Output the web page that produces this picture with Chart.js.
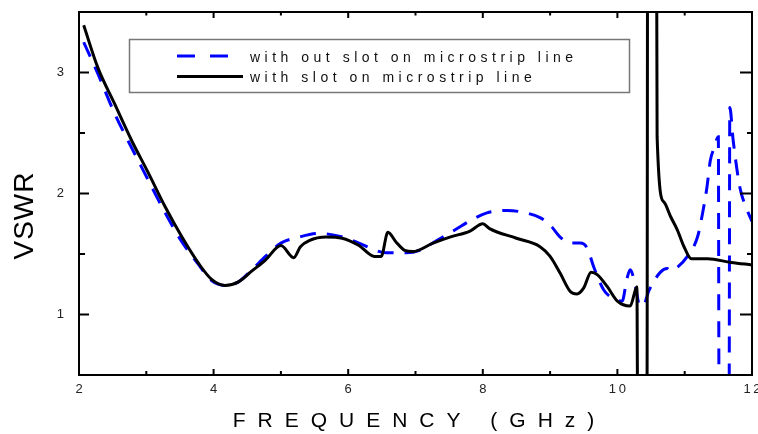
<!DOCTYPE html>
<html>
<head>
<meta charset="utf-8">
<title>VSWR vs frequency</title>
<script src="https://cdn.jsdelivr.net/npm/chart.js@4.4.1/dist/chart.umd.min.js"></script>
<style>
  html, body { margin: 0; padding: 0; background: #fff; }
  #wrap { width: 758px; height: 434px; }
</style>
</head>
<body>
<div id="wrap"><canvas id="vswrChart" width="758" height="434"></canvas></div>
<script>
// Curve (GHz, VSWR). Values below 0.5 / above 3.5 are off scale.
const freqSlot = [2.07, 2.28, 2.53, 2.78, 3.03, 3.28, 3.53, 3.78, 3.97, 4.17, 4.37, 4.57, 4.77, 5.0,
  5.19, 5.29, 5.42, 5.67, 5.91, 6.16, 6.39, 6.49, 6.59, 6.71, 6.84, 6.96, 7.26, 7.51, 7.81, 8.0,
  8.10, 8.50, 8.85, 9.0, 9.15, 9.30, 9.40, 9.50, 9.61, 9.70, 9.85, 10.0, 10.19, 10.29, 10.30,
  10.44, 10.45, 10.58, 10.59, 10.69, 10.79, 10.89, 10.99, 11.10, 11.34, 11.69, 12.0];
const vswrSlot = [3.39, 3.04, 2.74, 2.44, 2.17, 1.89, 1.64, 1.42, 1.29, 1.24, 1.27, 1.36, 1.45, 1.57,
  1.47, 1.56, 1.61, 1.64, 1.63, 1.57, 1.48, 1.48, 1.68, 1.60, 1.53, 1.52, 1.59, 1.64, 1.69, 1.75,
  1.71, 1.63, 1.56, 1.48, 1.34, 1.19, 1.17, 1.22, 1.35, 1.33, 1.23, 1.11, 1.07, 1.23, 0.3,
  0.3, 4.5, 4.5, 2.47, 1.93, 1.81, 1.70, 1.56, 1.46, 1.46, 1.43, 1.41];

const freqNoSlot = [2.07, 2.28, 2.53, 2.78, 3.03, 3.28, 3.53, 3.78, 3.97, 4.17, 4.37, 4.57, 4.77, 5.0,
  5.27, 5.57, 5.92, 6.16, 6.41, 6.56, 6.86, 7.06, 7.31, 7.56, 7.86, 8.06, 8.36, 8.55, 8.85, 9.0,
  9.15, 9.30, 9.45, 9.55, 9.65, 9.80, 9.95, 10.07, 10.14, 10.19, 10.27, 10.32, 10.38, 10.47,
  10.64, 10.74, 10.79, 10.89, 11.04, 11.19, 11.26, 11.33, 11.38, 11.44, 11.50, 11.51, 11.66,
  11.67, 11.72, 11.82, 11.90, 12.0];
const vswrNoSlot = [3.25, 2.99, 2.66, 2.38, 2.11, 1.84, 1.60, 1.41, 1.28, 1.24, 1.27, 1.37, 1.48, 1.59,
  1.64, 1.67, 1.64, 1.59, 1.53, 1.51, 1.51, 1.53, 1.61, 1.69, 1.79, 1.84, 1.86, 1.85, 1.80, 1.74,
  1.64, 1.59, 1.59, 1.55, 1.39, 1.20, 1.13, 1.11, 1.29, 1.37, 1.23, 1.09, 1.07, 1.20,
  1.35, 1.38, 1.36, 1.39, 1.48, 1.64, 1.82, 2.05, 2.27, 2.38, 2.47, 0.3, 0.3,
  2.71, 2.44, 2.05, 1.90, 1.77];

const xTicks = [2, 4, 6, 8, 10, 12];
const yTicks = [1, 2, 3];
const seriesNames = ['with out slot on microstrip line', 'with slot on microstrip line'];

const FONT = '"Liberation Sans", Arial, sans-serif';
const BLUE = '#0000ff';

function toPoints(xs, ys) {
  return xs.map((f, i) => ({ x: f, y: ys[i] }));
}

// frame round the plot with inward ticks on all four sides
const framePlugin = {
  id: 'frame',
  afterDatasetsDraw(chart) {
    const { ctx, chartArea: a, scales: { x, y } } = chart;
    ctx.save();
    ctx.strokeStyle = '#000';
    ctx.lineWidth = 2;
    ctx.strokeRect(a.left, a.top, a.right - a.left, a.bottom - a.top);
    ctx.beginPath();
    for (let v = 2; v <= 12; v++) {
      const px = x.getPixelForValue(v);
      const major = v % 2 === 0;
      ctx.moveTo(px, a.bottom); ctx.lineTo(px, a.bottom - (major ? 6 : 4));
      ctx.moveTo(px, a.top); ctx.lineTo(px, a.top + (major ? 6 : 3.5));
    }
    for (let v = 0.5; v <= 3.5; v += 0.5) {
      const py = y.getPixelForValue(v);
      const major = Number.isInteger(v);
      ctx.moveTo(a.left, py); ctx.lineTo(a.left + (major ? 10 : 6), py);
      ctx.moveTo(a.right, py); ctx.lineTo(a.right - (major ? 12 : 5), py);
    }
    ctx.stroke();
    ctx.restore();
  }
};

// axis titles, spaced out like the original
const titlePlugin = {
  id: 'axisTitles',
  afterDraw(chart) {
    const { ctx, chartArea: a } = chart;
    ctx.save();
    ctx.fillStyle = '#000';
    ctx.textBaseline = 'alphabetic';
    ctx.textAlign = 'left';

    ctx.font = '21px ' + FONT;
    ctx.letterSpacing = '12px';
    const xt = 'FREQUENCY (GHz)';
    const w = ctx.measureText(xt).width - 12;
    ctx.fillText(xt, (a.left + a.right) / 2 - 2 - w / 2, 427);

    ctx.font = '28px ' + FONT;
    ctx.letterSpacing = '1px';
    const yt = 'VSWR';
    const wy = ctx.measureText(yt).width - 1;
    ctx.translate(33, 216);
    ctx.rotate(-Math.PI / 2);
    ctx.fillText(yt, -wy / 2, 0);
    ctx.restore();
  }
};

// boxed legend inside the plot
const legendPlugin = {
  id: 'boxLegend',
  afterDraw(chart) {
    const ctx = chart.ctx;
    ctx.save();
    ctx.fillStyle = '#fff';
    ctx.fillRect(129, 39, 500, 54);
    ctx.strokeStyle = '#777';
    ctx.lineWidth = 1.5;
    ctx.strokeRect(129.5, 39.5, 500, 53);

    ctx.lineWidth = 3;
    ctx.strokeStyle = BLUE;
    ctx.beginPath();
    ctx.moveTo(177, 56); ctx.lineTo(195, 56);
    ctx.moveTo(210, 56); ctx.lineTo(228, 56);
    ctx.stroke();
    ctx.strokeStyle = '#000';
    ctx.beginPath();
    ctx.moveTo(177, 76.5); ctx.lineTo(243, 76.5);
    ctx.stroke();

    ctx.fillStyle = '#111';
    ctx.font = '14px ' + FONT;
    ctx.letterSpacing = '4.5px';
    ctx.textAlign = 'left';
    ctx.fillText(seriesNames[0], 250, 61.5);
    ctx.fillText(seriesNames[1], 250, 82);
    ctx.restore();
  }
};

const ctx = document.getElementById('vswrChart').getContext('2d');
new Chart(ctx, {
  type: 'line',
  data: {
    datasets: [
      {
        label: seriesNames[1],
        data: toPoints(freqSlot, vswrSlot),
        borderColor: '#000',
        borderWidth: 3,
        pointRadius: 0,
        cubicInterpolationMode: 'monotone',
        borderJoinStyle: 'round'
      },
      {
        label: seriesNames[0],
        data: toPoints(freqNoSlot, vswrNoSlot),
        borderColor: BLUE,
        borderWidth: 3,
        borderDash: [16, 11],
        pointRadius: 0,
        cubicInterpolationMode: 'monotone'
      }
    ]
  },
  options: {
    responsive: false,
    devicePixelRatio: 1,
    animation: false,
    layout: { padding: { left: 0, top: 12, right: 6, bottom: 0 } },
    plugins: { legend: { display: false }, tooltip: { enabled: false } },
    scales: {
      x: {
        type: 'linear',
        min: 2,
        max: 12,
        grid: { display: false, drawTicks: false },
        border: { display: false },
        afterBuildTicks: s => { s.ticks = xTicks.map(v => ({ value: v })); },
        afterFit: s => { s.height = 59; s.paddingLeft = 0; s.paddingRight = 0; },
        ticks: {
          padding: 7,
          color: '#222',
          font: { family: FONT, size: 13 },
          maxRotation: 0,
          callback: v => String(v).split('').join('\u2009')
        }
      },
      y: {
        min: 0.5,
        max: 3.5,
        grid: { display: false, drawTicks: false },
        border: { display: false },
        afterBuildTicks: s => { s.ticks = yTicks.map(v => ({ value: v })); },
        afterFit: s => { s.width = 79; s.paddingTop = 0; s.paddingBottom = 0; },
        ticks: {
          padding: 15,
          color: '#222',
          font: { family: FONT, size: 13 },
          callback: v => String(v)
        }
      }
    }
  },
  plugins: [framePlugin, titlePlugin, legendPlugin]
});
</script>
</body>
</html>
